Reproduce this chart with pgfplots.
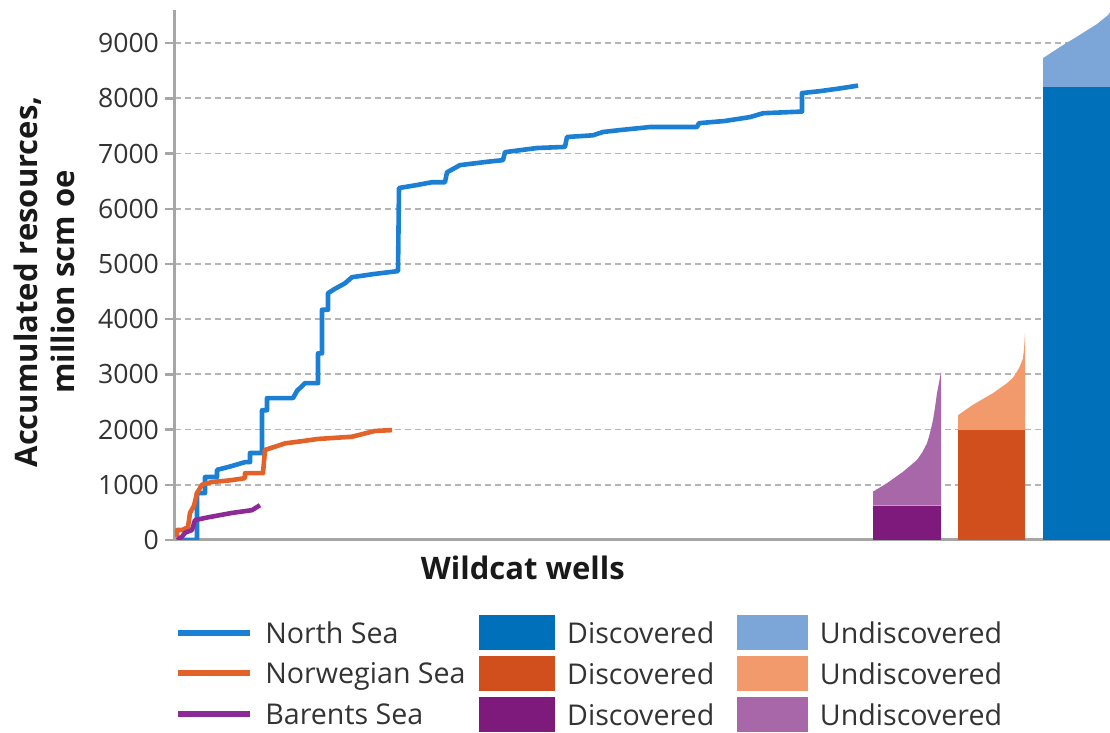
\documentclass[border=0pt]{standalone}
\usepackage{pgfplots}
\pgfplotsset{compat=1.18}
\usepackage{fontspec}
\setmainfont{Open Sans}
\definecolor{nsline}{HTML}{1B7FD3}
\definecolor{nwline}{HTML}{E2622A}
\definecolor{bsline}{HTML}{8C2A98}
\definecolor{nsdisc}{HTML}{0070BB}
\definecolor{nsund}{HTML}{7CA6D8}
\definecolor{nwdisc}{HTML}{D14F1D}
\definecolor{nwund}{HTML}{F39A6C}
\definecolor{bsdisc}{HTML}{7F1A7D}
\definecolor{bsund}{HTML}{A867A9}
\definecolor{axisgray}{HTML}{A6A6A6}
\definecolor{gridgray}{HTML}{B4B4B4}
\definecolor{textgray}{HTML}{333333}
\begin{document}
\begin{tikzpicture}
\begin{axis}[
  name=ax,
  at={(0,0)}, anchor=south west,
  scale only axis, width=467.5pt, height=265pt,
  xmin=0, xmax=935, ymin=0, ymax=9600,
  axis x line=bottom, axis y line=left,
  axis line style={-, draw=axisgray, line width=1.5pt},
  xtick=\empty,
  ytick={0,1000,...,9000},
  ymajorgrids,
  grid style={densely dashed, draw=gridgray, line width=0.9pt},
  major tick length=5pt, tick align=outside,
  ytick style={draw=axisgray, line width=1.2pt},
  yticklabel style={font=\fontsize{13.3}{13}\selectfont, text=textgray, xshift=0.5pt},
  /pgf/number format/assume math mode=true,
  /pgf/number format/1000 sep={},
  ylabel={Accumulated resources,\\million scm oe},
  ylabel style={align=center, font=\bfseries\fontsize{15.5}{18.5}\selectfont, text=black!90, at={(axis description cs:-0.140,0.487)}, anchor=center},
  xlabel={Wildcat wells},
  xlabel style={font=\bfseries\fontsize{15.5}{18}\selectfont, text=black!90, at={(axis description cs:0.372,-0.053)}, anchor=center},
  legend columns=3,
  legend cell align=left,
  legend style={draw=none, fill=none, inner sep=0pt, row sep=3.0pt, column sep=0pt,
    nodes={inner sep=0pt},
    font=\fontsize{14.3}{16}\selectfont, text=textgray,
    at={(axis description cs:0.0,-0.141)}, anchor=north west,
    /tikz/every odd column/.append style={column sep=6pt}},
]
% undiscovered / discovered areas
\addplot[fill=bsund, draw=none, forget plot] coordinates {(698,620) (698,875) (712,1030) (728,1235) (742,1450) (747,1580) (752,1750) (755,1940) (758,2170) (760,2400) (762,2660) (764,2850) (766,3040) (766,620)} -- cycle;
\addplot[fill=bsdisc, draw=none, forget plot] coordinates {(698,620) (766,620)} \closedcycle;
\addplot[fill=nwund, draw=none, forget plot] coordinates {(783,1990) (783,2260) (798,2450) (818,2660) (832,2840) (838,2940) (842,3050) (845,3150) (848,3290) (849,3450) (850,3740) (850,1990)} -- cycle;
\addplot[fill=nwdisc, draw=none, forget plot] coordinates {(783,1990) (850,1990)} \closedcycle;
\addplot[fill=nsund, draw=none, forget plot] coordinates {(868,8209) (868,8728) (885,8930) (902,9118) (922,9345) (933,9507) (935,9560) (935,8209)} -- cycle;
\addplot[fill=nsdisc, draw=none, forget plot] coordinates {(868,8209) (935,8209)} \closedcycle;
% North Sea
\addplot[nsline, line width=2.3pt, line join=round, forget plot] coordinates {
(2,0) (22,0) (22,850) (30,850) (30,1140) (42,1140) (42,1270) (55,1330) (70,1410) (75,1410) (75,1575) (87,1575) (87,2350) (92,2350) (92,2570) (118,2570) (122,2700) (130,2840) (143,2840) (143,3380) (147,3380) (147,4170) (153,4170) (153,4470) (160,4550) (170,4650) (177,4760) (200,4820) (223,4870) (224,6375) (242,6430) (257,6480) (270,6480) (272,6660) (285,6790) (312,6850) (328,6880) (330,7025) (362,7100) (390,7120) (392,7300) (418,7330) (428,7390) (445,7425) (475,7480) (522,7480) (524,7550) (550,7590) (575,7660) (588,7730) (627,7760) (627,8095) (645,8130) (665,8180) (683,8230)};
% Norwegian Sea
\addplot[nwline, line width=2.3pt, line join=round, forget plot] coordinates {
(2,50) (2,180) (7,180) (13,230) (15,490) (19,620) (22,850) (27,1000) (37,1050) (55,1080) (70,1120) (70,1210) (88,1210) (90,1630) (100,1690) (110,1750) (123,1780) (143,1830) (177,1870) (190,1930) (200,1975) (217,1990)};
% Barents Sea
\addplot[bsline, line width=2.3pt, line join=round, forget plot] coordinates {
(2,0) (7,60) (10,130) (17,180) (20,360) (33,410) (45,450) (57,490) (77,540) (85,630)};
% legend
\addlegendimage{legend image code/.code={\draw[line width=3pt, nsline] (0pt,0.8pt) -- (36pt,0.8pt);}}
\addlegendentry{\makebox[107pt][l]{North Sea}}
\addlegendimage{legend image code/.code={\fill[nsdisc] (0pt,-7.7pt) rectangle (37.5pt,9.3pt);}}
\addlegendentry{\makebox[85pt][l]{Discovered}}
\addlegendimage{legend image code/.code={\fill[nsund] (0pt,-7.7pt) rectangle (35pt,9.3pt);}}
\addlegendentry{Undiscovered}
\addlegendimage{legend image code/.code={\draw[line width=3pt, nwline] (0pt,0.8pt) -- (36pt,0.8pt);}}
\addlegendentry{\makebox[107pt][l]{Norwegian Sea}}
\addlegendimage{legend image code/.code={\fill[nwdisc] (0pt,-7.7pt) rectangle (37.5pt,9.3pt);}}
\addlegendentry{\makebox[85pt][l]{Discovered}}
\addlegendimage{legend image code/.code={\fill[nwund] (0pt,-7.7pt) rectangle (35pt,9.3pt);}}
\addlegendentry{Undiscovered}
\addlegendimage{legend image code/.code={\draw[line width=3pt, bsline] (0pt,0.8pt) -- (36pt,0.8pt);}}
\addlegendentry{\makebox[107pt][l]{Barents Sea}}
\addlegendimage{legend image code/.code={\fill[bsdisc] (0pt,-7.7pt) rectangle (37.5pt,9.3pt);}}
\addlegendentry{\makebox[85pt][l]{Discovered}}
\addlegendimage{legend image code/.code={\fill[bsund] (0pt,-7.7pt) rectangle (35pt,9.3pt);}}
\addlegendentry{Undiscovered}
\end{axis}
\pgfresetboundingbox
\path[use as bounding box] ([shift={(-87.5pt,-96.5pt)}]ax.south west) rectangle ([yshift=5pt]ax.north east);
\end{tikzpicture}
\end{document}
